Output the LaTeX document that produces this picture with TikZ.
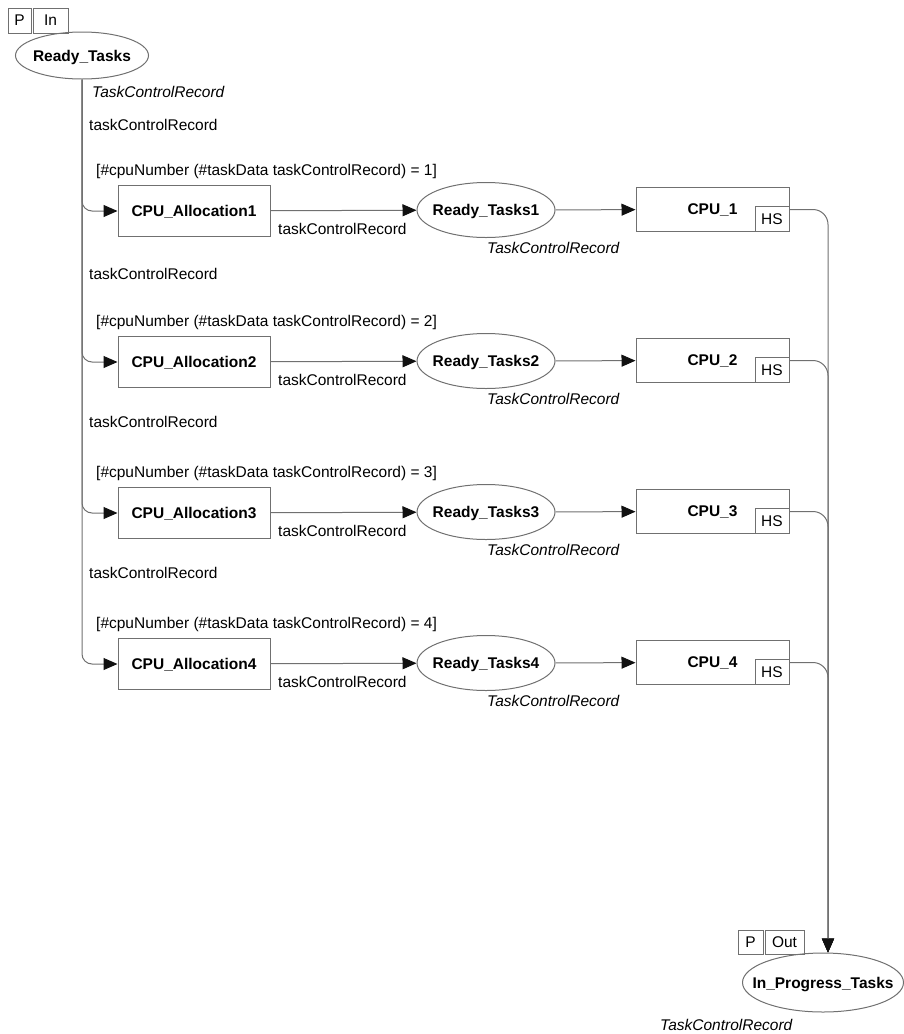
\documentclass[tikz,border=0pt]{standalone}
\usepackage{fontspec}
\setmainfont{Liberation Sans}
\usetikzlibrary{shapes.geometric,arrows.meta}
\definecolor{cpnLine}{HTML}{707070}
\definecolor{cpnInk}{HTML}{111111}
\newcommand{\cpnfont}{\fontsize{15.5}{18}\selectfont}

\begin{document}
\begin{tikzpicture}[x=1pt,y=-1pt,
		place/.style={ellipse,draw=cpnLine,line width=1pt,inner xsep=-20pt,inner ysep=0pt,text depth=0pt,font=\cpnfont\bfseries},
		trans/.style={rectangle,draw=cpnLine,line width=1pt,minimum width=152,minimum height=51,inner sep=0pt,text depth=0pt,font=\cpnfont\bfseries},
		subst/.style={rectangle,draw=cpnLine,line width=1pt,minimum width=153,minimum height=44,inner sep=0pt,text depth=0pt,font=\cpnfont\bfseries},
		tag/.style={rectangle,draw=cpnLine,line width=1pt,minimum height=25,inner sep=0pt,text depth=0pt,font=\cpnfont},
		colset/.style={anchor=west,inner sep=0pt,font=\cpnfont\itshape},
		inscr/.style={anchor=west,inner sep=0pt,font=\cpnfont},
		arc/.style={draw=cpnLine,line width=1pt,-{Triangle[length=14pt,width=12pt,color=cpnInk]}}]
		\useasboundingbox (0,0) rectangle (903,1034);
		\node[tag,minimum width=23] (pin) at (19.5,20.5) {P};
		\node[tag,minimum width=35] (in) at (50.5,20.5) {In};
		\node[place,minimum width=133,minimum height=47] (rt) at (82,55.5) {Ready\_Tasks};
		\node[colset] (rtcs) at (92,92) {TaskControlRecord};
		\node[tag,minimum width=25,minimum height=24] (pout) at (750.5,942) {P};
		\node[tag,minimum width=39,minimum height=24] (out) at (784.5,942) {Out};
		\node[place,minimum width=161,minimum height=59] (ipt) at (823,982.5) {In\_Progress\_Tasks};
		\node[colset] (iptcs) at (660,1025) {TaskControlRecord};
		\foreach \i/\y/\ly in {1/211/125,2/362/274,3/513/422,4/664/573}{
			\node[inscr] (var\i) at (89,\ly) {taskControlRecord};
			\node[inscr] (grd\i) at (96,\y-40) {[\#cpuNumber (\#taskData taskControlRecord) = \i]};
			\node[trans] (alloc\i) at (194,\y) {CPU\_Allocation\i};
			\node[place,minimum width=138,minimum height=55] (rdy\i) at (486,\y-1) {Ready\_Tasks\i};
			\node[colset] (rdycs\i) at (487,\y+37) {TaskControlRecord};
			\node[inscr] (lbl\i) at (278,\y+18) {taskControlRecord};
			\node[subst] (cpu\i) at (712.5,\y-1.5) {CPU\_\i\hspace{10pt}};
			\node[tag,minimum width=34,anchor=south east] (hs\i) at (cpu\i.south east) {HS};
			\draw[arc,rounded corners=10] (rt.south) |- (alloc\i.west);
			\draw[arc] (alloc\i) -- (rdy\i);
			\draw[arc] (rdy\i) -- (cpu\i);
			\draw[arc,rounded corners=15] (cpu\i.east) -| ([xshift=5]ipt.north);
		}
	\end{tikzpicture}
\end{document}
